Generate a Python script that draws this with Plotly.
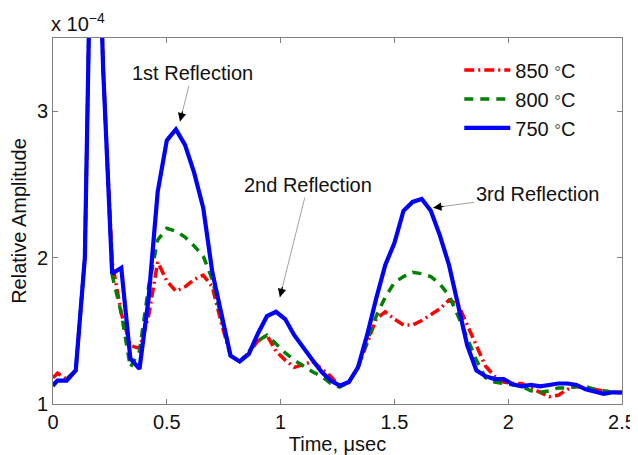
import plotly.graph_objects as go

time_us = [0.0, 0.02, 0.06, 0.10, 0.14, 0.18, 0.22, 0.26, 0.30, 0.34, 0.38, 0.42, 0.46, 0.50,
           0.54, 0.58, 0.62, 0.66, 0.70, 0.74, 0.78, 0.82, 0.86, 0.90, 0.94, 0.98, 1.02, 1.06,
           1.10, 1.14, 1.18, 1.22, 1.26, 1.30, 1.34, 1.38, 1.42, 1.46, 1.50, 1.54, 1.58, 1.62,
           1.66, 1.70, 1.74, 1.78, 1.82, 1.86, 1.90, 1.94, 1.98, 2.02, 2.06, 2.10, 2.14, 2.18,
           2.22, 2.26, 2.30, 2.34, 2.38, 2.42, 2.46, 2.50]

amp_850 = [1.18, 1.21, 1.17, 1.23, 2.0, 5.5, 3.3, 1.97, 1.62, 1.40, 1.38, 1.60, 1.97, 1.84,
           1.77, 1.80, 1.85, 1.88, 1.80, 1.55, 1.33, 1.29, 1.35, 1.43, 1.47, 1.36, 1.30, 1.25,
           1.27, 1.29, 1.24, 1.19, 1.12, 1.15, 1.25, 1.42, 1.58, 1.63, 1.58, 1.54, 1.54, 1.57,
           1.61, 1.65, 1.71, 1.68, 1.54, 1.40, 1.26, 1.19, 1.15, 1.14, 1.14, 1.11, 1.08, 1.05,
           1.06, 1.10, 1.12, 1.11, 1.095, 1.09, 1.08, 1.08]

amp_800 = [1.12, 1.16, 1.17, 1.23, 2.0, 5.5, 3.3, 1.88, 1.62, 1.25, 1.36, 1.80, 2.12, 2.20,
           2.18, 2.14, 2.08, 2.01, 1.85, 1.59, 1.33, 1.29, 1.36, 1.43, 1.47, 1.41, 1.35, 1.30,
           1.26, 1.22, 1.19, 1.14, 1.115, 1.15, 1.25, 1.42, 1.60, 1.73, 1.83, 1.87, 1.90, 1.89,
           1.87, 1.82, 1.74, 1.60, 1.45, 1.30, 1.18, 1.15, 1.14, 1.13, 1.12, 1.09, 1.08, 1.09,
           1.11, 1.11, 1.12, 1.12, 1.10, 1.09, 1.08, 1.08]

amp_750 = [1.13, 1.16, 1.16, 1.23, 2.0, 5.5, 3.3, 1.89, 1.93, 1.31, 1.24, 1.72, 2.45, 2.80,
           2.875, 2.77, 2.58, 2.34, 1.90, 1.62, 1.33, 1.29, 1.34, 1.48, 1.60, 1.63, 1.58, 1.47,
           1.38, 1.30, 1.22, 1.16, 1.125, 1.15, 1.25, 1.47, 1.72, 1.95, 2.10, 2.32, 2.38, 2.40,
           2.32, 2.15, 1.95, 1.69, 1.40, 1.23, 1.19, 1.17, 1.17, 1.135, 1.12, 1.13, 1.12, 1.13,
           1.14, 1.14, 1.13, 1.10, 1.085, 1.07, 1.08, 1.077]

series_names = ["850 <span style='font-size:17px;color:#666'>°</span>C",
                "800 <span style='font-size:17px;color:#666'>°</span>C",
                "750 <span style='font-size:17px;color:#666'>°</span>C"]
x_ticks = [0, 0.5, 1, 1.5, 2, 2.5]
x_tick_text = ["0", "0.5", "1", "1.5", "2", "2.5"]
y_ticks = [1, 2, 3]
y_tick_text = ["1", "2", "3"]

FONT = "Liberation Sans, Arial, sans-serif"
AXIS = "#808080"
TXT = "#111"
FS = 20

fig = go.Figure()
fig.add_trace(go.Scatter(x=time_us, y=amp_850, name=series_names[0], mode="lines",
                         line=dict(color="#FF0000", width=3.5, dash="10px,4px,2px,4px")))
fig.add_trace(go.Scatter(x=time_us, y=amp_800, name=series_names[1], mode="lines",
                         line=dict(color="#008000", width=3.5, dash="9px,7px")))
fig.add_trace(go.Scatter(x=time_us, y=amp_750, name=series_names[2], mode="lines",
                         line=dict(color="#0000FF", width=4.2)))

axis_common = dict(showgrid=False, zeroline=False, showline=True, linecolor=AXIS, linewidth=1,
                   mirror="ticks", ticks="inside", ticklen=5, tickcolor=AXIS, automargin=False,
                   tickfont=dict(family=FONT, size=FS, color=TXT))

fig.update_xaxes(range=[0, 2.5], tickvals=x_ticks, ticktext=x_tick_text,
                 title=dict(text="Time, μsec", font=dict(family=FONT, size=FS, color=TXT), standoff=2),
                 **axis_common)
fig.update_yaxes(range=[1, 3.5], tickvals=y_ticks, ticktext=y_tick_text,
                 title=dict(text="Relative Amplitude", font=dict(family=FONT, size=FS, color=TXT), standoff=6),
                 **axis_common)

annots = [
    ("1st Reflection", 0.558, 2.93, 12, -48),
    ("2nd Reflection", 0.997, 1.73, 28, -112),
    ("3rd Reflection", 1.67, 2.34, 104, -14),
]
for txt, ax_x, ax_y, dx, dy in annots:
    fig.add_annotation(x=ax_x, y=ax_y, xref="x", yref="y", text=txt, showarrow=True,
                       ax=dx, ay=dy, arrowhead=0, arrowwidth=0.8, arrowcolor="#888",
                       font=dict(family=FONT, size=FS, color=TXT))
    scale = 12.0 / (dx * dx + dy * dy) ** 0.5
    fig.add_annotation(x=ax_x, y=ax_y, xref="x", yref="y", text="", showarrow=True,
                       ax=dx * scale, ay=dy * scale, arrowhead=2, arrowsize=1.4, arrowwidth=1.2,
                       arrowcolor="#000")

fig.add_annotation(xref="paper", yref="paper", x=0, y=1, xanchor="left", yanchor="bottom",
                   xshift=-4, yshift=1, showarrow=False, text="x 10<sup>−4</sup>",
                   font=dict(family=FONT, size=FS, color=TXT))

fig.update_layout(
    width=630, height=447,
    margin=dict(l=45, r=16, t=30, b=51),
    paper_bgcolor="white", plot_bgcolor="white",
    showlegend=True,
    legend=dict(x=0.714, y=0.966, xanchor="left", yanchor="top", bgcolor="rgba(0,0,0,0)",
                font=dict(family=FONT, size=FS, color=TXT), itemwidth=46, tracegroupgap=0),
)

fig.write_html("out.html")
